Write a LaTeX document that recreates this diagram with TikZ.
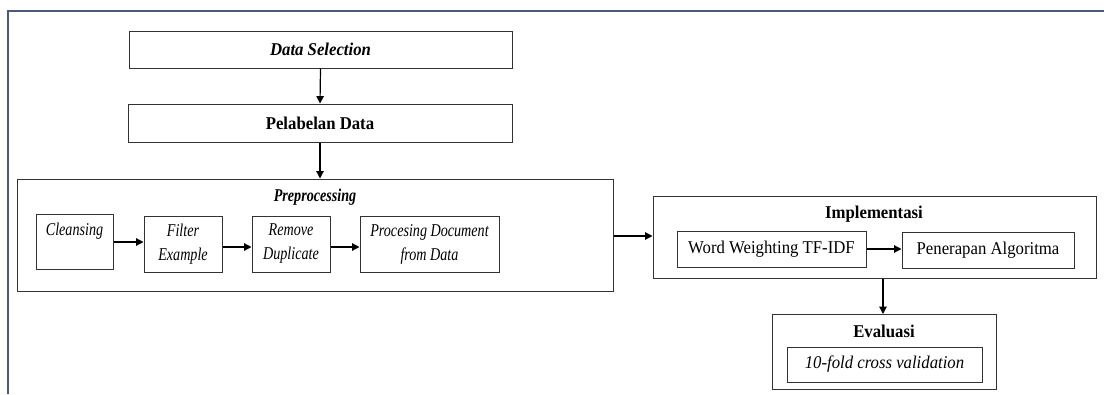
\documentclass[tikz,border=0pt]{standalone}
\usepackage{fontspec}
\setmainfont{Liberation Serif}[FakeStretch=0.93]
\newfontfamily\narf{Liberation Serif}[FakeStretch=0.785]
\usetikzlibrary{arrows.meta}
\definecolor{framec}{HTML}{4A5A78}
\definecolor{boxc}{HTML}{333333}
\tikzset{
  bx/.style 2 args={draw=boxc, line width=0.75pt, minimum width=#1*0.75pt, minimum height=#2*0.75pt, inner sep=1pt, align=center, font=\fontsize{13.5}{18}\selectfont},
  sm/.style={font=\fontsize{13.5}{18}\selectfont\narf\itshape},
  ttl/.style={font=\fontsize{13.5}{18}\selectfont\bfseries, inner sep=0pt},
  arr/.style={draw=black, line width=0.9pt, -{Triangle[length=5.5pt,width=5.5pt]}}
}
\begin{document}
\begin{tikzpicture}[x=0.75pt,y=-0.75pt]
\useasboundingbox (0,0) rectangle (1104,394);
\draw[framec, line width=1.6pt] (8,394) -- (8,11) -- (1104,11);

\node[bx={383}{37}] (ds) at (320.5,49.5) {\bfseries\itshape Data Selection};
\node[bx={384}{38}] (pd) at (320,123) {\bfseries Pelabelan Data};

\node[bx={596}{112}] (pre) at (315,235) {};
\node[ttl, font=\fontsize{13.5}{18}\selectfont\narf\bfseries\itshape] (pret) at (315,197) {Preprocessing};
\node[bx={77}{55}, sm] (cl) at (74.5,241.5) {Cleansing\\\mbox{}};
\node[bx={78}{56}, sm] (fe) at (183,244) {Filter\\Example};
\node[bx={78}{56}, sm] (rd) at (291,244) {Remove\\Duplicate};
\node[bx={139}{56}, sm] (pdd) at (429.5,244) {Procesing Document\\from Data};

\node[bx={443}{82}] (impl) at (874.5,237) {};
\node[ttl] (implt) at (874,214) {Implementasi};
\node[bx={189}{36}] (ww) at (771.5,249) {Word Weighting TF-IDF};
\node[bx={172}{36}] (pa) at (988,250) {Penerapan Algoritma};

\node[bx={224}{75}] (ev) at (884,351.5) {};
\node[ttl] (evt) at (884,331) {Evaluasi};
\node[bx={195}{35}] (kf) at (884.5,364.5) {\itshape 10-fold cross validation};

\draw[arr] (ds.south) -- (pd.north);
\draw[arr] (pd.south) -- (pd.south |- pre.north);
\draw[arr] ([yshift=-0.5*0.75pt]cl.east) -- ([yshift=-0.5*0.75pt]cl.east -| fe.west);
\draw[arr] ([yshift=-3*0.75pt]fe.east) -- ([yshift=-3*0.75pt]rd.west);
\draw[arr] ([yshift=-3*0.75pt]rd.east) -- ([yshift=-3*0.75pt]pdd.west);
\draw[arr] ([yshift=-1*0.75pt]pre.east) -- ([yshift=-1*0.75pt]pre.east -| impl.west);
\draw[arr] (ww.east) -- (ww.east -| pa.west);
\coordinate (evtop) at (883,314);
\draw[arr] (impl.south -| evtop) -- (evtop);
\end{tikzpicture}
\end{document}
